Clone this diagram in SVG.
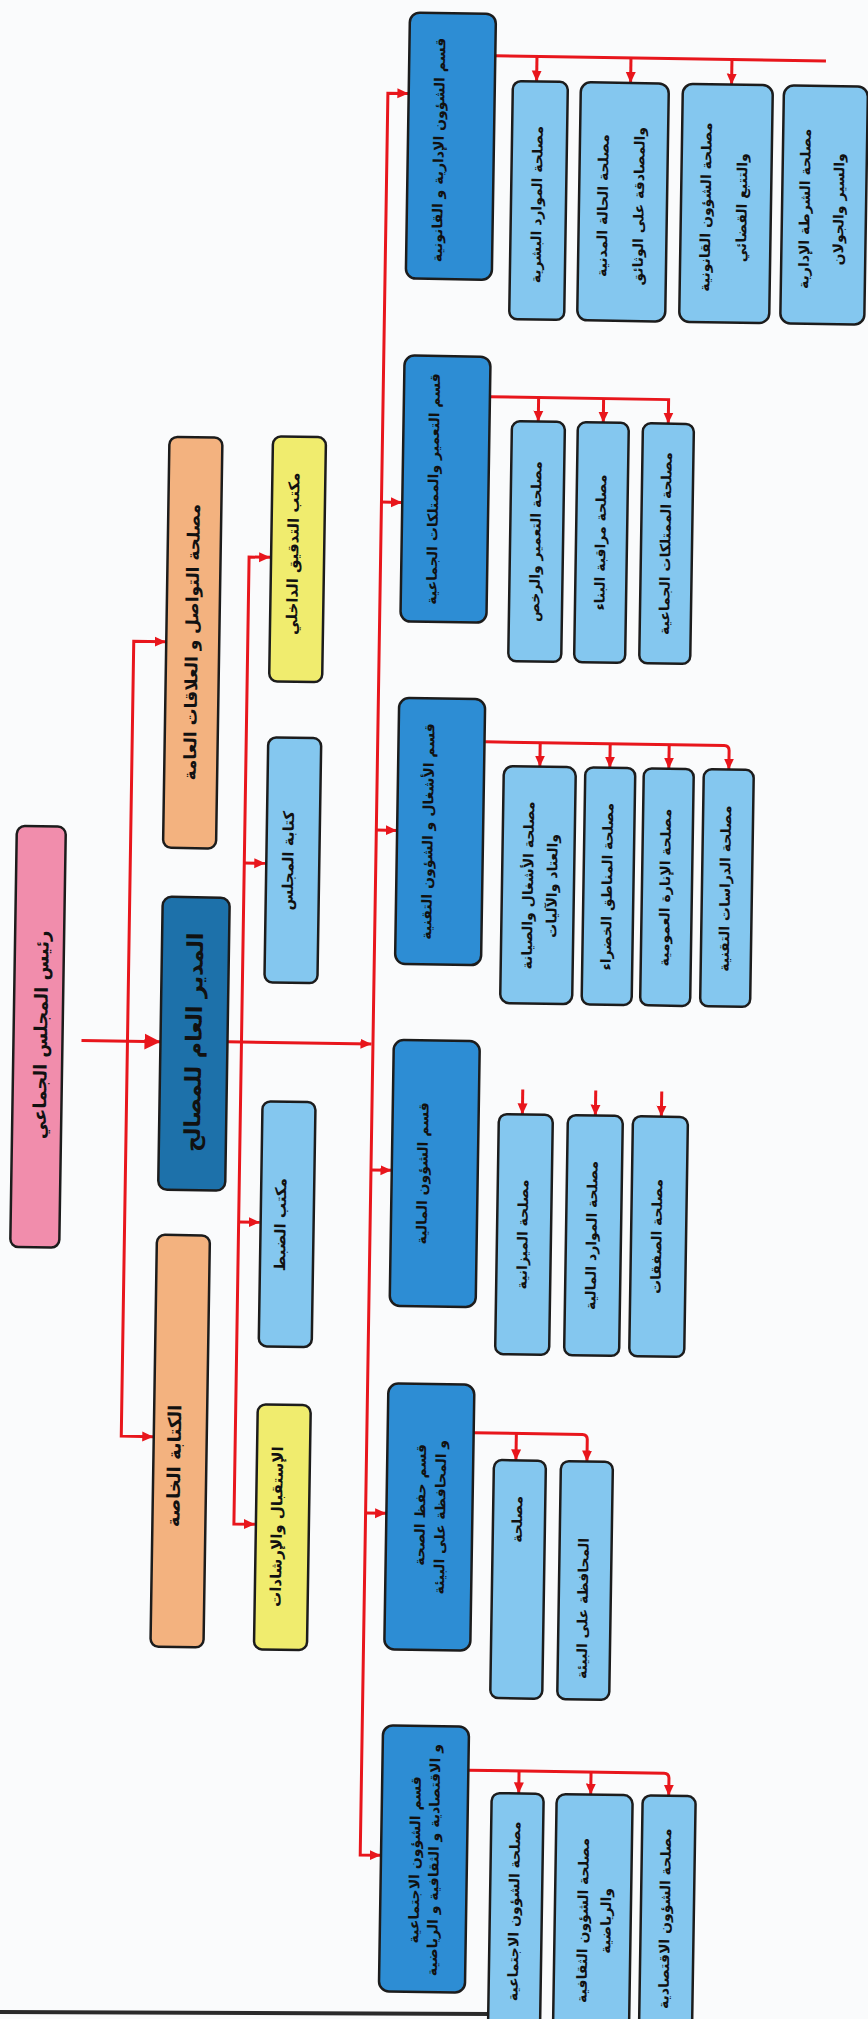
<svg xmlns="http://www.w3.org/2000/svg" width="868" height="2019" viewBox="0 0 868 2019">
<defs>
<marker id="ah" markerUnits="userSpaceOnUse" markerWidth="12" markerHeight="12" refX="11" refY="6" orient="auto"><path d="M0,1 L11,6 L0,11 z" fill="#e8161c"/></marker>
<marker id="ahb" markerUnits="userSpaceOnUse" markerWidth="18" markerHeight="18" refX="16" refY="8" orient="auto"><path d="M0,0 L16,8 L0,16 z" fill="#e8161c"/></marker>
</defs>
<style>
.box{stroke:#1c1c1c;stroke-width:2.5}
.pink{fill:#f18dac}
.dg{fill:#1d71aa}
.peach{fill:#f3b27f}
.yel{fill:#f0ec6e}
.lb{fill:#84c7ef}
.dep{fill:#2d8dd4}
text{font-family:"DejaVu Sans",sans-serif;font-weight:bold;fill:#111;text-anchor:middle;dominant-baseline:central}
.c{font-size:14px}
.d{font-size:14px}
.conn path{fill:none;stroke:#e8161c;stroke-width:3}
</style>
<rect x="0" y="0" width="868" height="2019" fill="#fafbfc"/>
<path d="M0,2012 L490,2014" stroke="#2a2a2a" stroke-width="4" fill="none"/>
<g transform="rotate(0.9 434 1010)">
<g class="conn">
<path d="M82,1046 H161" stroke-width="5" marker-end="url(#ahb)"/>
<path d="M128,1046 V646 H160" stroke-width="4" marker-end="url(#ah)"/>
<path d="M128,1046 V1441 H160" stroke-width="4" marker-end="url(#ah)"/>
<path d="M228,1045 H372" marker-end="url(#ah)"/>
<path d="M242,1045 V560 H263" marker-end="url(#ah)"/>
<path d="M242,1045 V1527 H263" marker-end="url(#ah)"/>
<path d="M242,866 H263" marker-end="url(#ah)"/>
<path d="M242,1225 H263" marker-end="url(#ah)"/>
<path d="M373.5,1045 V94 H394" marker-end="url(#ah)"/>
<path d="M373.5,1045 V1856 H394" marker-end="url(#ah)"/>
<path d="M373.5,503 H394" marker-end="url(#ah)"/>
<path d="M373.5,831 H394" marker-end="url(#ah)"/>
<path d="M373.5,1171 H394" marker-end="url(#ah)"/>
<path d="M373.5,1514 H394" marker-end="url(#ah)"/>
<path d="M480,55 H811"/>
<path d="M522,55 V80" marker-end="url(#ah)"/>
<path d="M616,55 V80" marker-end="url(#ah)"/>
<path d="M717,55 V80" marker-end="url(#ah)"/>
<path d="M480,396 H659 V420" marker-end="url(#ah)"/>
<path d="M529,396 V420" marker-end="url(#ah)"/>
<path d="M594,396 V420" marker-end="url(#ah)"/>
<path d="M481,741 H720 Q725,741 725,746 V765" marker-end="url(#ah)"/>
<path d="M536,741 V765" marker-end="url(#ah)"/>
<path d="M606,741 V765" marker-end="url(#ah)"/>
<path d="M665,741 V765" marker-end="url(#ah)"/>
<path d="M524,1088 V1113" marker-end="url(#ah)"/>
<path d="M597,1088 V1113" marker-end="url(#ah)"/>
<path d="M663,1088 V1113" marker-end="url(#ah)"/>
<path d="M480,1432 H589 Q594,1432 594,1437 V1459" marker-end="url(#ah)"/>
<path d="M523,1432 V1459" marker-end="url(#ah)"/>
<path d="M480,1769.5 H676 Q681,1769.5 681,1774.5 V1792" marker-end="url(#ah)"/>
<path d="M531,1769.5 V1792" marker-end="url(#ah)"/>
<path d="M603,1769.5 V1792" marker-end="url(#ah)"/>
</g>
<g id="president"><rect class="box pink" x="14" y="832.5" width="49" height="421" rx="8"/><text x="41" y="1041" font-size="18" transform="rotate(-90 41 1041)">رئيس المجلس الجماعي</text></g>
<g id="dg"><rect class="box dg" x="161" y="901" width="67" height="293" rx="9"/><text x="194.5" y="1046" font-size="22" transform="rotate(-90 194.5 1046)">المدير العام للمصالح</text></g>
<g id="communication"><rect class="box peach" x="160.5" y="441" width="53" height="411" rx="8"/><text x="186" y="646" font-size="17" transform="rotate(-90 186 646)">مصلحة التواصل و العلاقات العامة</text></g>
<g id="private-office"><rect class="box peach" x="160.5" y="1239" width="53" height="412" rx="8"/><text x="181" y="1470" font-size="18" transform="rotate(-90 181 1470)">الكتابة الخاصة</text></g>
<g id="audit"><rect class="box yel" x="264" y="439" width="53" height="245" rx="8"/><text x="286" y="556" font-size="15" transform="rotate(-90 286 556)">مكتب التدقيق الداخلي</text></g>
<g id="council-secretariat"><rect class="box lb" x="264" y="740" width="53" height="245" rx="8"/><text x="286" y="863" font-size="15" transform="rotate(-90 286 863)">كتابة المجلس</text></g>
<g id="registry"><rect class="box lb" x="264" y="1104" width="53" height="245" rx="8"/><text x="284" y="1227" font-size="15" transform="rotate(-90 284 1227)">مكتب الضبط</text></g>
<g id="reception"><rect class="box yel" x="264" y="1407" width="53" height="245" rx="8"/><text x="285" y="1529" font-size="15" transform="rotate(-90 285 1529)">الإستقبال والإرشادات</text></g>

<g id="dept-admin"><rect class="box dep" x="394.3" y="13" width="86" height="266" rx="10"/><text class="d" x="425" y="150" transform="rotate(-90 425 150)">قسم الشؤون الإدارية و القانونية</text></g>
<g id="dept-urban"><rect class="box dep" x="394.3" y="356" width="86" height="266" rx="10"/><text class="d" x="425" y="489" transform="rotate(-90 425 489)">قسم التعمير والممتلكات الجماعية</text></g>
<g id="dept-works"><rect class="box dep" x="394.3" y="698.5" width="86" height="266" rx="10"/><text class="d" x="425" y="831.5" transform="rotate(-90 425 831.5)">قسم الأشغال و الشؤون التقنية</text></g>
<g id="dept-finance"><rect class="box dep" x="394.3" y="1040.5" width="86" height="266" rx="10"/><text class="d" x="425" y="1173.5" transform="rotate(-90 425 1173.5)">قسم الشؤون المالية</text></g>
<g id="dept-health"><rect class="box dep" x="394.3" y="1384" width="86" height="266" rx="10"/><text class="d" x="428" y="1505" transform="rotate(-90 428 1505)">قسم حفظ الصحة</text><text class="d" x="448" y="1517" transform="rotate(-90 448 1517)">و المحافظة على البيئة</text></g>
<g id="dept-social"><rect class="box dep" x="394.3" y="1726" width="86" height="266" rx="10"/><text class="d" x="428" y="1860" transform="rotate(-90 428 1860)">قسم الشؤون الاجتماعية</text><text class="d" x="447" y="1860" transform="rotate(-90 447 1860)">و الاقتصادية و الثقافية و الرياضية</text></g>

<g id="s-hr"><rect class="box lb" x="498.3" y="80" width="55" height="238" rx="8"/><text class="c" x="524" y="203" transform="rotate(-90 524 203)">مصلحة الموارد البشرية</text></g>
<g id="s-civil"><rect class="box lb" x="566.3" y="80" width="88" height="238" rx="10"/><text class="c" x="590" y="203" transform="rotate(-90 590 203)">مصلحة الحالة المدنية</text><text class="c" x="626" y="203" transform="rotate(-90 626 203)">والمصادقة على الوثائق</text></g>
<g id="s-legal"><rect class="box lb" x="668.3" y="80" width="90" height="238" rx="10"/><text class="c" x="693" y="203" transform="rotate(-90 693 203)">مصلحة الشؤون القانونية</text><text class="c" x="729" y="203" transform="rotate(-90 729 203)">والتتبع القضائي</text></g>
<g id="s-police"><rect class="box lb" x="769.4" y="80" width="84" height="238" rx="10"/><text class="c" x="792" y="203" transform="rotate(-90 792 203)">مصلحة الشرطة الإدارية</text><text class="c" x="826" y="203" transform="rotate(-90 826 203)">والسير والجولان</text></g>

<g id="s-urban"><rect class="box lb" x="502.7" y="420" width="53" height="240" rx="8"/><text class="c" x="528" y="540" transform="rotate(-90 528 540)">مصلحة التعمير والرخص</text></g>
<g id="s-building"><rect class="box lb" x="568.6" y="420" width="51" height="240" rx="8"/><text class="c" x="593" y="540" transform="rotate(-90 593 540)">مصلحة مراقبة البناء</text></g>
<g id="s-property"><rect class="box lb" x="633.7" y="420" width="51" height="240" rx="8"/><text class="c" x="658" y="540" transform="rotate(-90 658 540)">مصلحة الممتلكات الجماعية</text></g>

<g id="s-works"><rect class="box lb" x="500" y="765" width="72" height="237" rx="9"/><text class="c" x="526" y="884" transform="rotate(-90 526 884)">مصلحة الأشغال والصيانة</text><text class="c" x="550" y="884" transform="rotate(-90 550 884)">والعتاد والآليات</text></g>
<g id="s-green"><rect class="box lb" x="581.5" y="765" width="50" height="237" rx="8"/><text class="c" x="605" y="884" transform="rotate(-90 605 884)">مصلحة المناطق الخضراء</text></g>
<g id="s-lighting"><rect class="box lb" x="640" y="765" width="50" height="237" rx="8"/><text class="c" x="663" y="884" transform="rotate(-90 663 884)">مصلحة الإنارة العمومية</text></g>
<g id="s-studies"><rect class="box lb" x="700" y="765" width="50" height="237" rx="8"/><text class="c" x="723" y="884" transform="rotate(-90 723 884)">مصلحة الدراسات التقنية</text></g>

<g id="s-budget"><rect class="box lb" x="500.5" y="1113" width="54" height="240" rx="8"/><text class="c" x="526" y="1233" transform="rotate(-90 526 1233)">مصلحة الميزانية</text></g>
<g id="s-resources"><rect class="box lb" x="569.5" y="1113" width="55" height="240" rx="8"/><text class="c" x="595" y="1233" transform="rotate(-90 595 1233)">مصلحة الموارد المالية</text></g>
<g id="s-deals"><rect class="box lb" x="634.6" y="1113" width="55" height="240" rx="8"/><text class="c" x="660" y="1233" transform="rotate(-90 660 1233)">مصلحة الصفقات</text></g>

<g id="s-hygiene"><rect class="box lb" x="501" y="1459" width="52" height="238" rx="8"/><text class="c" x="525" y="1518" transform="rotate(-90 525 1518)">مصلحة</text></g>
<g id="s-environment"><rect class="box lb" x="568" y="1459" width="52" height="238" rx="8"/><text class="c" x="592" y="1606" transform="rotate(-90 592 1606)">المحافظة على البيئة</text></g>

<g id="s-social"><rect class="box lb" x="504" y="1792" width="52" height="268" rx="8"/><text class="c" x="528" y="1910" transform="rotate(-90 528 1910)">مصلحة الشؤون الاجتماعية</text></g>
<g id="s-culture"><rect class="box lb" x="569" y="1792" width="76" height="268" rx="9"/><text class="c" x="597" y="1918" transform="rotate(-90 597 1918)">مصلحة الشؤون الثقافية</text><text class="c" x="620" y="1918" transform="rotate(-90 620 1918)">والرياضية</text></g>
<g id="s-economy"><rect class="box lb" x="655" y="1792" width="53" height="268" rx="8"/><text class="c" x="679" y="1915" transform="rotate(-90 679 1915)">مصلحة الشؤون الاقتصادية</text></g>
</g>
</svg>
